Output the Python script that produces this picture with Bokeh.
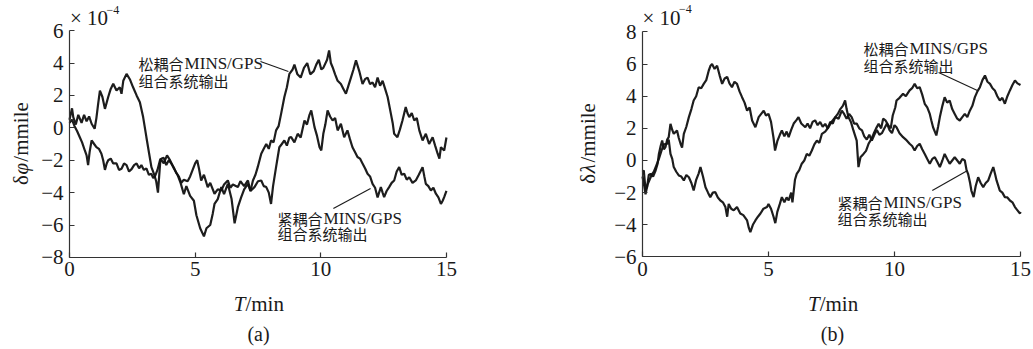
from bokeh.plotting import figure
from bokeh.models import Range1d, FixedTicker, Label
from bokeh.layouts import row
from bokeh.embed import file_html
from bokeh.resources import INLINE

# ---------------- data (values in units of 1e-4 mmile) ----------------
tick_x = [0, 5, 10, 15]
ticks_a = [-8, -6, -4, -2, 0, 2, 4, 6]
ticks_b = [-6, -4, -2, 0, 2, 4, 6, 8]

a_loose_t = [0.0, 0.1, 0.15, 0.25, 0.35, 0.48, 0.58, 0.68, 0.78, 0.88, 1.0, 1.07, 1.14, 1.21, 1.31, 1.41, 1.54, 1.64, 1.74, 1.87,
             2.0, 2.07, 2.14, 2.27, 2.4, 2.53, 2.67, 2.8, 2.93, 3.06, 3.17, 3.26, 3.36, 3.45, 3.52, 3.62, 3.75, 3.88, 4.0, 4.15,
             4.3, 4.42, 4.55, 4.65, 4.8, 4.95, 5.05, 5.2, 5.35, 5.45, 5.6, 5.7, 5.77, 5.9, 6.04, 6.15, 6.3, 6.45, 6.57, 6.7,
             6.83, 6.95, 7.1, 7.2, 7.3, 7.4, 7.49, 7.63, 7.73, 7.83, 7.93, 8.02, 8.12, 8.22, 8.32, 8.42, 8.55, 8.65, 8.75, 8.88,
             8.95, 9.07, 9.2, 9.33, 9.46, 9.58, 9.72, 9.82, 9.92, 10.02, 10.1, 10.25, 10.33, 10.4, 10.47, 10.57, 10.67, 10.8, 10.9, 11.0,
             11.1, 11.2, 11.3, 11.4, 11.53, 11.66, 11.76, 11.86, 11.96, 12.06, 12.16, 12.26, 12.36, 12.46, 12.56, 12.66, 12.79, 12.86, 12.92, 13.05,
             13.15, 13.25, 13.38, 13.45, 13.52, 13.62, 13.72, 13.82, 13.92, 14.05, 14.18, 14.31, 14.45, 14.55, 14.65, 14.72, 14.78, 14.91, 15.0]
a_loose_v = [0.5, 1.2, 0.66, 0.2, 0.8, 0.3, 0.8, 0.4, 0.7, 0.25, -0.06, 0.6, 1.48, 2.3, 1.9, 1.17, 1.9, 2.4, 2.72, 2.3,
             2.5, 2.1, 2.9, 3.33, 3.0, 2.5, 2.0, 1.58, 0.66, -0.58, -1.6, -2.43, -2.84, -3.3, -4.0, -1.9, -2.2, -1.7, -2.0, -2.5,
             -2.9, -3.4, -4.1, -3.6, -4.2, -4.5, -5.4, -6.2, -6.7, -6.2, -6.0, -5.3, -4.7, -4.4, -3.66, -4.1, -3.46, -4.4, -5.9, -4.9,
             -4.3, -3.8, -3.46, -3.9, -3.25, -2.9, -2.43, -1.6, -1.3, -1.0, -1.3, -0.78, -0.9, -0.16, 0.1, 0.86, 1.9, 2.5, 3.33, 3.6,
             3.9, 3.3, 3.1, 3.7, 4.0, 3.3, 3.5, 3.9, 4.2, 3.6, 3.7, 4.2, 4.77, 4.0, 3.74, 3.3, 2.9, 2.7, 2.4, 2.1,
             2.6, 3.1, 3.6, 4.16, 3.5, 2.7, 3.0, 3.1, 2.7, 2.8, 2.5, 3.1, 2.6, 2.9, 2.4, 1.9, 0.86, 0.3, -0.37, -0.58,
             -0.1, 0.45, 1.28, 0.9, 0.66, 0.9, 0.45, 0.6, -0.16, -0.78, -0.37, -1.0, -0.58, -1.1, -1.6, -1.9, -1.2, -1.4, -0.6]

a_tight_t = [0.0, 0.1, 0.2, 0.3, 0.41, 0.5, 0.61, 0.68, 0.74, 0.8, 0.88, 0.98, 1.07, 1.17, 1.27, 1.34, 1.41, 1.48, 1.54, 1.64,
             1.74, 1.87, 1.97, 2.07, 2.17, 2.27, 2.37, 2.47, 2.57, 2.67, 2.77, 2.86, 2.96, 3.06, 3.16, 3.26, 3.33, 3.4, 3.5, 3.6,
             3.67, 3.75, 3.85, 3.95, 4.05, 4.15, 4.25, 4.35, 4.45, 4.55, 4.7, 4.8, 4.9, 5.0, 5.08, 5.15, 5.24, 5.35, 5.5, 5.6,
             5.77, 5.9, 6.04, 6.15, 6.3, 6.4, 6.5, 6.7, 6.8, 6.95, 7.1, 7.2, 7.36, 7.5, 7.63, 7.73, 7.83, 7.93, 8.02, 8.1,
             8.22, 8.35, 8.45, 8.55, 8.65, 8.75, 8.82, 8.95, 9.08, 9.2, 9.35, 9.45, 9.55, 9.62, 9.68, 9.75, 9.85, 9.95, 10.02, 10.1,
             10.18, 10.27, 10.37, 10.47, 10.57, 10.67, 10.8, 10.93, 11.06, 11.16, 11.26, 11.36, 11.46, 11.56, 11.66, 11.76, 11.86, 11.96, 12.06, 12.16,
             12.26, 12.32, 12.39, 12.46, 12.52, 12.62, 12.72, 12.82, 12.92, 13.02, 13.12, 13.22, 13.32, 13.42, 13.52, 13.65, 13.78, 13.9, 14.05, 14.12,
             14.18, 14.28, 14.38, 14.48, 14.58, 14.68, 14.78, 14.85, 14.91, 15.0]
a_tight_v = [0.3, 0.5, 0.1, -0.2, -0.58, -0.9, -1.4, -1.7, -2.3, -1.5, -0.78, -1.0, -1.19, -1.3, -1.6, -2.0, -2.6, -2.2, -2.0, -1.9,
             -2.2, -2.2, -2.6, -2.53, -2.2, -2.3, -2.7, -2.55, -2.3, -2.2, -2.5, -2.3, -2.6, -2.5, -2.9, -2.84, -3.1, -3.0, -2.6, -2.0,
             -1.9, -1.85, -2.3, -2.0, -2.2, -2.45, -2.8, -3.0, -3.4, -3.2, -3.3, -3.0, -2.6, -2.2, -2.0, -2.5, -3.25, -2.9, -3.66, -3.4,
             -4.07, -3.8, -3.87, -3.5, -3.25, -3.7, -3.5, -3.66, -3.3, -3.6, -3.25, -3.9, -3.66, -3.3, -3.25, -3.6, -3.66, -4.0, -4.7, -3.6,
             -2.43, -1.2, -1.0, -0.78, -1.1, -0.6, -0.58, -0.9, -0.37, -0.6, 0.45, 0.2, 0.8, 1.07, 0.6, 0.04, -0.5, -1.2, -1.4, -0.37,
             0.2, 1.07, 0.7, 0.45, 0.6, -0.16, 0.25, -0.58, -0.16, -0.7, -1.2, -1.5, -1.8, -1.9, -2.2, -2.5, -2.84, -3.0, -3.46, -3.7,
             -4.3, -4.0, -3.66, -4.0, -4.28, -3.9, -3.66, -3.4, -3.25, -2.7, -2.43, -2.9, -2.84, -3.2, -3.05, -3.4, -3.25, -2.9, -2.43, -3.0,
             -3.46, -3.6, -3.87, -3.7, -4.07, -4.3, -4.7, -4.5, -4.28, -3.9]

b_loose_t = [0.0, 0.05, 0.12, 0.18, 0.25, 0.32, 0.42, 0.52, 0.6, 0.65, 0.72, 0.78, 0.85, 0.91, 0.98, 1.04, 1.11, 1.18, 1.24, 1.37,
             1.44, 1.51, 1.57, 1.64, 1.74, 1.84, 1.94, 2.03, 2.13, 2.23, 2.33, 2.43, 2.53, 2.63, 2.7, 2.76, 2.86, 2.96, 3.06, 3.16,
             3.26, 3.36, 3.45, 3.55, 3.65, 3.75, 3.85, 3.95, 4.05, 4.15, 4.25, 4.35, 4.48, 4.61, 4.71, 4.81, 4.9, 5.0, 5.1, 5.2,
             5.26, 5.35, 5.45, 5.53, 5.63, 5.72, 5.8, 5.9, 6.0, 6.1, 6.19, 6.3, 6.46, 6.55, 6.65, 6.75, 6.85, 6.95, 7.05, 7.15,
             7.25, 7.35, 7.45, 7.55, 7.65, 7.75, 7.85, 7.95, 8.04, 8.1, 8.17, 8.27, 8.37, 8.5, 8.57, 8.65, 8.77, 8.87, 8.97, 9.07,
             9.17, 9.27, 9.37, 9.47, 9.55, 9.64, 9.75, 9.85, 9.93, 10.03, 10.08, 10.2, 10.34, 10.45, 10.6, 10.7, 10.8, 10.9, 11.0, 11.1,
             11.2, 11.3, 11.4, 11.46, 11.53, 11.6, 11.66, 11.73, 11.8, 11.9, 11.99, 12.09, 12.19, 12.29, 12.39, 12.49, 12.59, 12.69, 12.79, 12.89,
             12.99, 13.09, 13.19, 13.29, 13.39, 13.49, 13.59, 13.69, 13.79, 13.89, 13.98, 14.08, 14.18, 14.28, 14.38, 14.48, 14.58, 14.68, 14.78, 14.88, 15.0]
b_loose_v = [-0.7, -0.62, -1.8, -1.66, -0.9, -0.83, -1.0, -0.62, -0.2, 0.41, 0.9, 1.24, 0.7, 0.83, 1.3, 1.45, 2.28, 1.9, 1.66, 1.87,
             1.4, 1.04, 0.8, 1.66, 2.1, 2.7, 3.2, 3.73, 4.0, 4.56, 4.5, 4.77, 5.0, 5.6, 5.9, 6.0, 5.7, 5.9, 5.3, 4.77,
             5.1, 5.2, 4.8, 4.56, 4.9, 4.77, 4.3, 3.94, 3.6, 3.1, 3.3, 2.49, 2.07, 2.7, 2.9, 3.1, 2.8, 2.9, 2.4, 1.4,
             0.62, 1.2, 1.6, 1.87, 1.5, 1.8, 1.45, 1.9, 2.3, 2.5, 2.7, 2.3, 2.07, 2.3, 2.0, 2.4, 2.5, 2.2, 2.4, 2.1,
             2.28, 2.0, 2.4, 2.3, 2.7, 2.9, 3.2, 3.4, 3.73, 3.2, 2.7, 2.4, 1.87, 1.24, -0.41, 0.2, 0.41, 0.6, 1.04, 1.3,
             1.66, 2.0, 2.28, 2.0, 2.6, 2.5, 2.2, 2.0, 2.8, 3.3, 3.73, 3.9, 4.15, 4.0, 4.36, 4.5, 4.77, 4.5, 4.56, 4.1,
             3.53, 3.3, 2.9, 2.5, 2.07, 1.8, 1.56, 2.1, 2.7, 3.4, 3.94, 3.6, 3.73, 3.2, 2.9, 2.6, 2.49, 2.7, 2.9, 2.7,
             3.1, 3.4, 3.94, 4.3, 4.56, 5.0, 5.29, 4.9, 4.77, 4.5, 4.36, 4.0, 3.73, 3.9, 3.53, 4.0, 4.36, 4.7, 4.98, 4.8, 4.7]

b_tight_t = [0.0, 0.06, 0.12, 0.2, 0.28, 0.36, 0.45, 0.55, 0.65, 0.75, 0.85, 0.98, 1.04, 1.11, 1.18, 1.24, 1.34, 1.44, 1.54, 1.64,
             1.74, 1.84, 1.94, 2.03, 2.13, 2.23, 2.3, 2.4, 2.5, 2.6, 2.69, 2.79, 2.89, 2.99, 3.09, 3.19, 3.29, 3.36, 3.42, 3.52,
             3.62, 3.75, 3.88, 4.0, 4.15, 4.22, 4.28, 4.38, 4.48, 4.58, 4.68, 4.8, 4.94, 5.0, 5.1, 5.2, 5.27, 5.35, 5.45, 5.53,
             5.63, 5.72, 5.8, 5.9, 5.95, 6.05, 6.12, 6.22, 6.32, 6.42, 6.52, 6.62, 6.72, 6.82, 6.92, 7.02, 7.12, 7.25, 7.38, 7.5,
             7.65, 7.78, 7.91, 8.0, 8.1, 8.2, 8.3, 8.4, 8.5, 8.6, 8.71, 8.8, 8.9, 9.0, 9.1, 9.2, 9.3, 9.4, 9.5, 9.6,
             9.7, 9.8, 9.9, 10.0, 10.08, 10.2, 10.34, 10.45, 10.6, 10.7, 10.8, 10.9, 11.0, 11.1, 11.2, 11.3, 11.4, 11.5, 11.6, 11.7,
             11.8, 11.9, 11.99, 12.09, 12.19, 12.29, 12.39, 12.49, 12.59, 12.69, 12.79, 12.86, 12.92, 13.0, 13.05, 13.14, 13.22, 13.32, 13.42, 13.52,
             13.62, 13.72, 13.82, 13.92, 14.0, 14.05, 14.18, 14.28, 14.38, 14.48, 14.58, 14.68, 14.78, 14.88, 14.98, 15.0]
b_tight_v = [-1.0, -1.5, -2.1, -1.5, -1.2, -0.9, -0.7, -0.3, 0.1, 0.6, 1.0, 1.04, 1.3, 0.41, 0.1, -0.41, -0.7, -0.93, -1.0, -1.24,
             -0.9, -1.04, -1.4, -1.87, -1.2, -0.8, -0.41, -1.0, -1.66, -2.0, -2.28, -2.0, -1.97, -2.3, -2.49, -2.6, -2.9, -3.5, -2.7, -3.0,
             -3.1, -2.9, -3.3, -3.4, -3.73, -4.2, -4.46, -4.0, -3.73, -3.5, -3.3, -3.0, -2.9, -2.7, -3.0, -3.5, -3.9, -3.2, -2.7, -2.28,
             -2.6, -2.3, -2.49, -2.0, -2.6, -1.2, -0.83, -0.6, -0.2, 0.0, 0.41, 0.3, 0.62, 1.0, 1.24, 1.1, 1.66, 1.8, 2.07, 2.4,
             2.7, 2.6, 3.1, 2.9, 2.6, 2.9, 2.7, 2.3, 2.3, 2.0, 1.87, 1.5, 1.3, 1.6, 1.24, 1.6, 1.9, 1.6, 1.7, 2.0,
             2.3, 1.9, 1.7, 2.2, 2.07, 1.7, 1.45, 1.3, 1.04, 0.9, 0.62, 0.9, 1.04, 0.7, 0.41, 0.1, -0.2, 0.1, 0.2, -0.1,
             -0.41, 0.0, 0.41, 0.1, -0.2, 0.0, 0.2, 0.0, -0.2, 0.1, 0.0, -0.6, -0.83, -1.4, -1.87, -2.28, -1.6, -1.04, -1.4, -1.66,
             -1.4, -1.24, -0.8, -0.41, -0.9, -1.24, -1.87, -2.0, -2.28, -2.3, -2.49, -2.6, -2.9, -3.1, -3.3, -3.2]

label_cjk_loose = "松耦合"
label_cjk_tight = "紧耦合"
label_latin = "MINS/GPS"
label_line2 = "组合系统输出"

SERIF = "Liberation Serif"
CJK = "Noto Sans CJK SC"
LINE_COLOR = "#111111"
AXIS_COLOR = "#333333"
TXT = "#1a1a1a"
FS = "21px"
HALF_PI = 1.5708


def make_panel(ticks_y, yb, xr, yr, width, series):
    p = figure(width=width, height=349, output_backend="svg", toolbar_location=None,
               x_range=Range1d(*xr), y_range=Range1d(*yr),
               min_border=0, min_border_left=0, min_border_right=0,
               min_border_top=0, min_border_bottom=0)
    p.outline_line_color = None
    p.xgrid.visible = False
    p.ygrid.visible = False
    p.background_fill_color = "white"
    p.border_fill_color = "white"
    p.xaxis.fixed_location = yb[0]
    p.xaxis.bounds = (0, 15)
    p.yaxis.fixed_location = 0
    p.yaxis.bounds = yb
    for ax, tks in ((p.xaxis[0], tick_x), (p.yaxis[0], ticks_y)):
        ax.ticker = FixedTicker(ticks=tks)
        ax.major_label_overrides = {t: (str(t) if t >= 0 else "\u2212" + str(-t)) for t in tks}
        ax.axis_line_color = AXIS_COLOR
        ax.axis_line_width = 1.2
        ax.major_tick_line_color = AXIS_COLOR
        ax.major_tick_line_width = 1.2
        ax.major_tick_in = 5
        ax.major_tick_out = 0
        ax.minor_tick_line_color = None
        ax.major_label_text_font = SERIF
        ax.major_label_text_font_size = FS
        ax.major_label_text_color = TXT
    p.xaxis.major_label_standoff = 5
    p.yaxis.major_label_standoff = 6
    for t, v in series:
        p.line(t, v, line_color=LINE_COLOR, line_width=2.2, line_alpha=0.95)
    return p


def add_text(p, x, y, text, size="15px", font=CJK, style="normal", align="left", angle=0.0, xoff=0):
    p.add_layout(Label(x=x, y=y, text=text, text_font=font, text_font_size=size,
                       text_font_style=style, text_align=align, text_baseline="middle",
                       angle=angle, x_offset=xoff, text_color=TXT))


def annotate(p, x, y1, y2, cjk):
    add_text(p, x, y1, cjk, size="15px", font=CJK)
    add_text(p, x, y1, label_latin, size="17px", font=SERIF, xoff=46)
    add_text(p, x, y2, label_line2, size="15px", font=CJK)


def ylabel(p, x, y_delta, y_sym, y_unit, sym):
    add_text(p, x, y_delta, "\u03b4", size=FS, font=SERIF, angle=HALF_PI)
    add_text(p, x, y_sym, sym, size=FS, font=SERIF, style="italic", angle=HALF_PI)
    add_text(p, x, y_unit, "/mmile", size=FS, font=SERIF, align="right", angle=HALF_PI)


# ---------------- panel (a) ----------------
pa = make_panel(ticks_a, (-8, 6), (-2.746, 17.748), (-13.685, 7.858), 515,
                [(a_loose_t, a_loose_v), (a_tight_t, a_tight_v)])
annotate(pa, 2.75, 3.97, 2.92, label_cjk_loose)
pa.segment(x0=[7.6], y0=[4.09], x1=[8.71], y1=[3.48], line_color=TXT, line_width=1.1)
annotate(pa, 8.28, -5.6, -6.52, label_cjk_tight)
pa.segment(x0=[10.5], y0=[-4.98], x1=[11.98], y1=[-3.75], line_color=TXT, line_width=1.1)
add_text(pa, 0.02, 6.78, "\u00d7 10", size=FS, font=SERIF)
add_text(pa, 1.47, 7.3, "\u22124", size="12px", font=SERIF)
ylabel(pa, -1.95, -3.525, -2.877, 1.58, "\u03c6")
add_text(pa, 7.0, -10.85, "T", size=FS, font=SERIF, style="italic", align="right")
add_text(pa, 7.0, -10.85, "/min", size=FS, font=SERIF, align="left")
add_text(pa, 7.52, -12.7, "(a)", size="20px", font=SERIF, align="center")

# ---------------- panel (b) ----------------
pb = make_panel(ticks_b, (-6, 8), (-5.04, 15.516), (-11.761, 9.956), 518,
                [(b_loose_t, b_loose_v), (b_tight_t, b_tight_v)])
annotate(pb, 8.77, 6.97, 5.91, label_cjk_loose)
pb.segment(x0=[11.75], y0=[5.48], x1=[13.29], y1=[4.36], line_color=TXT, line_width=1.1)
annotate(pb, 7.74, -2.61, -3.61, label_cjk_tight)
pb.segment(x0=[11.5], y0=[-1.87], x1=[12.9], y1=[-0.62], line_color=TXT, line_width=1.1)
add_text(pb, 0.0, 8.88, "\u00d7 10", size=FS, font=SERIF)
add_text(pb, 1.45, 9.42, "\u22124", size="12px", font=SERIF)
ylabel(pb, -2.18, -1.45, -0.80, 3.57, "\u03bb")
add_text(pb, 7.03, -8.9, "T", size=FS, font=SERIF, style="italic", align="right")
add_text(pb, 7.03, -8.9, "/min", size=FS, font=SERIF, align="left")
add_text(pb, 7.54, -10.77, "(b)", size="20px", font=SERIF, align="center")

layout = row(pa, pb)
open("out.html", "w").write(file_html(layout, INLINE))
